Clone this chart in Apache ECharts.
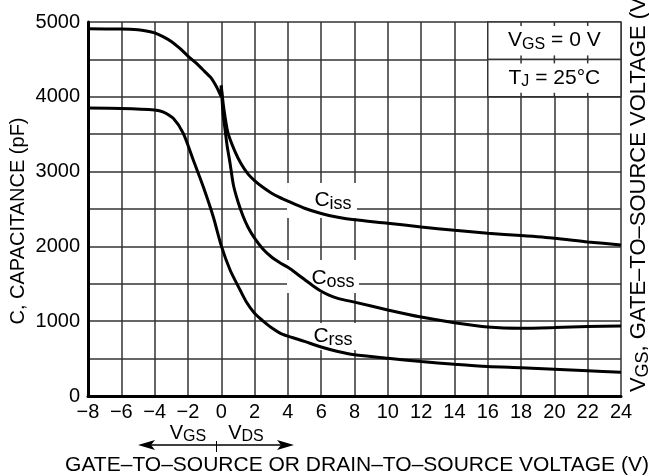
<!DOCTYPE html>
<html><head><meta charset="utf-8">
<script src="https://cdn.jsdelivr.net/npm/echarts@6/dist/echarts.min.js"></script>
<style>html,body{margin:0;padding:0;background:#fff}#c{width:649px;height:476px}</style>
</head><body><div id="c"></div>
<script>
// ---- data ----
const xRange = [-8, 24];
const yRange = [0, 5000];
const ciss = [[-8,4910],[-6,4905],[-5,4895],[-4.5,4880],[-4,4855],[-3.5,4805],[-3,4740],[-2.5,4650],[-2,4545],[-1.5,4450],[-1,4340],[-0.6,4250],[-0.3,4140],[0,4000],
  [0,4150],[0.15,3850],[0.4,3520],[0.8,3280],[1.2,3100],[1.6,2970],[2,2880],[2.5,2790],[3,2715],[3.5,2655],[4,2605],[5,2510],[6,2440],[7,2390],[8,2355],[10,2310],[12,2260],[14,2215],[16,2175],[18,2145],[20,2110],[22,2060],[24,2020]];
const coss = [[0,4150],[0.1,3800],[0.23,3560],[0.35,3350],[0.53,3110],[0.73,2820],[1,2600],[1.3,2410],[1.6,2260],[2,2110],[2.5,1965],[3,1862],[3.5,1785],[4,1720],[4.5,1642],[5,1558],[5.5,1474],[6,1400],[6.5,1345],[7,1305],[8,1255],[10,1150],[12,1055],[14,980],[16,922],[18,905],[20,915],[22,930],[24,935]];
const crss = [[-8,3850],[-6,3845],[-4,3825],[-3.5,3800],[-2.88,3712],[-2.28,3511],[-1.68,3155],[-1.08,2798],[-0.48,2397],[0,2010],[0.53,1684],[1.13,1417],[1.5,1260],[2,1105],[2.5,1005],[3,915],[3.5,845],[4,800],[4.5,765],[5,730],[6,655],[7,595],[8,552],[10,505],[12,460],[14,425],[16,395],[18,378],[20,358],[22,338],[24,317]];
const curveLabels = [[6.71,2620,'iss'],[6.71,1578,'oss'],[6.71,802,'rss']];
const labelMasks = [[3.95,8.15,2380,2848],[3.95,8.27,1377,1818],[4.91,8.93,615,976]];
const condBoxes = [[16,24,4500,5000],[16,24,4000,4500]];
const condStubs = [[18,5000,-1],[20,5000,-1],[22,5000,-1],[18,4500,0],[20,4500,0],[22,4500,0],[18,4000,1],[20,4000,1],[22,4000,1]];
const condTexts = [[20,4750,'{v|V}{s|GS}{v| = 0 V}'],[20,4250,'{v|T}{s|J}{v| = 25°C}']];

const FONT = '"Liberation Sans", Arial, Helvetica, sans-serif';
const GRID = '#333';
const chart = echarts.init(document.getElementById('c'));
const sub = (fs, sfs, drop) => ({
  v: {fontSize: fs, fontFamily: FONT, color: '#000', lineHeight: fs, verticalAlign: 'top', padding:[0,0,0,0]},
  s: {fontSize: sfs, fontFamily: FONT, color: '#000', lineHeight: sfs, verticalAlign: 'top', padding:[drop,0,0,0]}
});
const lineSeries = (name, data) => ({
  type: 'line', name, data, showSymbol: false, smooth: 0.25, z: 3, silent: true,
  lineStyle: {color: '#000', width: 3}, animation: false
});
chart.setOption({
  animation: false,
  grid: {left: 88, right: 28, top: 22, bottom: 80},
  xAxis: {
    type: 'value', min: xRange[0], max: xRange[1], interval: 2,
    axisLine: {onZero: false, lineStyle: {color: '#000', width: 3}},
    axisTick: {show: false},
    splitLine: {lineStyle: {color: GRID, width: 1.5}},
    axisLabel: {color: '#000', fontSize: 20, fontFamily: FONT, margin: 6,
      formatter: v => v < 0 ? '\u2212' + (-v) : String(v)}
  },
  yAxis: {
    type: 'value', min: yRange[0], max: yRange[1], interval: 500,
    axisLine: {show: true, onZero: false, lineStyle: {color: '#000', width: 3}},
    axisTick: {show: false},
    splitLine: {lineStyle: {color: GRID, width: 1.5}},
    axisLabel: {color: '#000', fontSize: 20, fontFamily: FONT, margin: 8,
      formatter: v => v % 1000 === 0 ? String(v) : ''}
  },
  series: [
    {type: 'custom', z: 2, silent: true, data: labelMasks, encode: {x: [0,1], y: [2,3]},
      renderItem: (p, api) => {
        const a = api.coord([api.value(0), api.value(3)]);
        const b = api.coord([api.value(1), api.value(2)]);
        return {type: 'rect', shape: {x: a[0], y: a[1], width: b[0]-a[0], height: b[1]-a[1]}, style: {fill: '#fff'}};
      }},
    {type: 'custom', z: 2, silent: true, data: condBoxes, encode: {x: [0,1], y: [2,3]},
      renderItem: (p, api) => {
        const a = api.coord([api.value(0), api.value(3)]);
        const b = api.coord([api.value(1), api.value(2)]);
        return {type: 'rect', shape: {x: a[0], y: a[1], width: b[0]-a[0], height: b[1]-a[1]}, style: {fill: '#fff', stroke: GRID, lineWidth: 1.5}};
      }},
    {type: 'custom', z: 2, silent: true, data: condStubs, encode: {x: 0, y: 1},
      renderItem: (p, api) => {
        const c = api.coord([api.value(0), api.value(1)]);
        const d = api.value(2);
        const y1 = d < 0 ? c[1] : c[1] - 4;
        const y2 = d > 0 ? c[1] : c[1] + 4;
        return {type: 'line', shape: {x1: c[0], y1: y1, x2: c[0], y2: y2}, style: {stroke: GRID, lineWidth: 1.5}};
      }},
    lineSeries('Ciss', ciss),
    lineSeries('Coss', coss),
    lineSeries('Crss', crss),
    {type: 'custom', z: 4, silent: true, data: curveLabels, encode: {x: 0, y: 1},
      renderItem: (p, api) => {
        const c = api.coord([api.value(0), api.value(1)]);
        const item = curveLabels[p.dataIndex];
        return {type: 'text', x: c[0], y: c[1], style: {text: '{v|C}{s|' + item[2] + '}', rich: sub(21, 18, 6), align: 'center', verticalAlign: 'middle'}};
      }},
    {type: 'custom', z: 4, silent: true, data: condTexts, encode: {x: 0, y: 1},
      renderItem: (p, api) => {
        const c = api.coord([api.value(0), api.value(1)]);
        const item = condTexts[p.dataIndex];
        return {type: 'text', x: c[0], y: c[1], style: {text: item[2], rich: sub(21, 16, 6), align: 'center', verticalAlign: 'middle'}};
      }}
  ],
  graphic: [
    {type: 'text', x: 18, y: 221, rotation: Math.PI/2, style: {text: 'C, CAPACITANCE (pF)', font: '20px ' + FONT, fill: '#000', align: 'center', verticalAlign: 'middle'}},
    {type: 'text', x: 357, y: 465, style: {text: 'GATE\u2013TO\u2013SOURCE OR DRAIN\u2013TO\u2013SOURCE VOLTAGE (V)', font: '21px ' + FONT, fill: '#000', align: 'center', verticalAlign: 'middle'}},
    {type: 'text', x: 639, y: 191, rotation: Math.PI/2, style: {text: '{v|V}{s|GS}{v|, GATE\u2013TO\u2013SOURCE VOLTAGE (V)}', rich: sub(22, 18, 6), align: 'center', verticalAlign: 'middle'}},
    {type: 'line', shape: {x1: 146, y1: 445, x2: 286, y2: 445}, style: {stroke: '#000', lineWidth: 1.5}},
    {type: 'polygon', shape: {points: [[138,445],[155,440],[151,445],[155,450]]}, style: {fill: '#000'}},
    {type: 'polygon', shape: {points: [[294,445],[277,440],[281,445],[277,450]]}, style: {fill: '#000'}},
    {type: 'line', shape: {x1: 216.5, y1: 441, x2: 216.5, y2: 452}, style: {stroke: '#000', lineWidth: 1}},
    {type: 'text', x: 188, y: 433, style: {text: '{v|V}{s|GS}', rich: sub(20, 16, 6), align: 'center', verticalAlign: 'middle'}},
    {type: 'text', x: 246, y: 433, style: {text: '{v|V}{s|DS}', rich: sub(20, 16, 6), align: 'center', verticalAlign: 'middle'}}
  ]
});
</script></body></html>
